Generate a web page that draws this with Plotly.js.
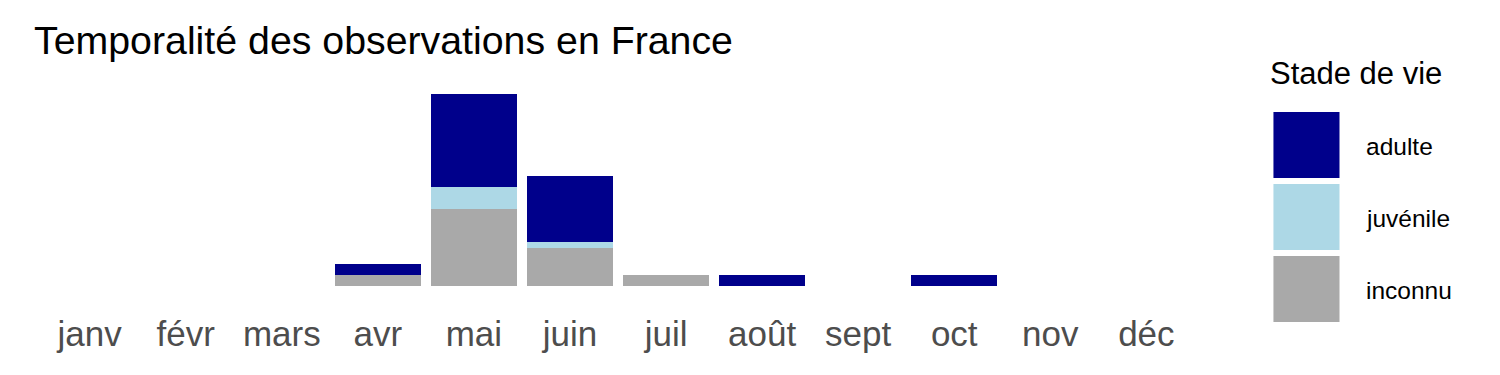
<!DOCTYPE html>
<html><head><meta charset="utf-8">
<script src="https://cdn.plot.ly/plotly-3.0.1.min.js"></script>
<style>body{margin:0;background:#fff}#chart{width:1500px;height:375px}</style>
</head><body><div id="chart"></div>
<script>
const months = ["janv","févr","mars","avr","mai","juin","juil","août","sept","oct","nov","déc"];
const adulte   = [0,0,0,2,17,12,0,2,0,2,0,0];
const juvenile = [0,0,0,0,4,1,0,0,0,0,0,0];
const inconnu  = [0,0,0,2,14,7,2,0,0,0,0,0];
const seriesNames = ["adulte","juvénile","inconnu"];
const seriesColors = ["#00008B","#ADD8E6","#A9A9A9"];

const W = 1500, H = 375;
const L = 32.4, R = 296.4, T = 84, B = 79;
const pw = W - L - R, ph = H - T - B;
const px = v => (v - L) / pw;
const py = v => (H - B - v) / ph;

const traces = [
  {name: seriesNames[2], y: inconnu, color: seriesColors[2]},
  {name: seriesNames[1], y: juvenile, color: seriesColors[1]},
  {name: seriesNames[0], y: adulte, color: seriesColors[0]}
].map(s => ({type:'bar', x: months, y: s.y, name: s.name, marker:{color: s.color, line:{width:0}}, hoverinfo:'x+y+name'}));

const shapes = [], annotations = [];
const keyTops = [112, 184, 256];
seriesNames.forEach((n, i) => {
  shapes.push({type:'rect', xref:'paper', yref:'paper', x0: px(1273), x1: px(1339), y0: py(keyTops[i]+66), y1: py(keyTops[i]), fillcolor: seriesColors[i], line:{width:0}});
  annotations.push({xref:'paper', yref:'paper', x: px(1363), y: py(keyTops[i]+34), xanchor:'left', yanchor:'middle', text: n, showarrow:false, font:{family:'Liberation Sans, Arial, sans-serif', size:24.5, color:'#000'}});
});
annotations.push({xref:'paper', yref:'paper', x: px(1268), y: py(74), xanchor:'left', yanchor:'middle', text:'Stade de vie', showarrow:false, font:{family:'Liberation Sans, Arial, sans-serif', size:31, color:'#000'}});

const layout = {
  width: W, height: H,
  margin:{l:L, r:R, t:T, b:B, pad:0},
  paper_bgcolor:'#fff', plot_bgcolor:'#fff',
  barmode:'stack', bargap:0.1,
  showlegend:false,
  title:{text:'Temporalité des observations en France', x:34/W, xref:'container', xanchor:'left', y:1-40/H, yref:'container', yanchor:'middle', font:{family:'Liberation Sans, Arial, sans-serif', size:39.3, color:'#000'}},
  xaxis:{type:'category', categoryorder:'array', categoryarray: months, range:[-0.6, 11.6], showgrid:false, zeroline:false, showline:false, ticks:'', ticklabelstandoff:14, tickfont:{family:'Liberation Sans, Arial, sans-serif', size:35, color:'#4D4D4D'}, fixedrange:true},
  yaxis:{range:[-1.75, 36.75], showgrid:false, zeroline:false, showline:false, showticklabels:false, ticks:'', fixedrange:true},
  shapes, annotations
};
Plotly.newPlot('chart', traces, layout, {displayModeBar:false, staticPlot:true});
</script></body></html>
